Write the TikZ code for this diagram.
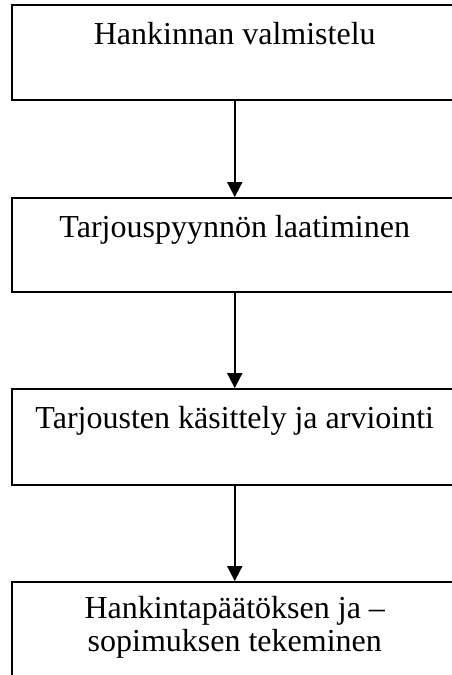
\documentclass[tikz,border=0pt]{standalone}
\usepackage{fontspec}
\setmainfont{Liberation Serif}
\usetikzlibrary{arrows.meta}
\begin{document}
\begin{tikzpicture}[x=1pt,y=-1pt,
  stepbox/.style={draw, line width=1.8pt, minimum width=445pt, inner sep=0pt},
  lbl/.style={font=\fontsize{32}{33}\selectfont, align=center, inner sep=0pt},
  flow/.style={line width=1.8pt, -{Triangle[length=15pt,width=15pt]}}]
  \useasboundingbox (0,0) rectangle (452,675);
  \clip (0,0) rectangle (452,675);
  % process boxes, running off the right edge
  \node[stepbox, minimum height=95pt] (b1) at (234.75,52.5) {};
  \node[stepbox, minimum height=94pt] (b2) at (234.75,245) {};
  \node[stepbox, minimum height=96pt] (b3) at (234.75,437) {};
  \node[stepbox, minimum height=100pt] (b4) at (234.75,632) {};
  % labels
  \node[lbl, anchor=base] (t1) at ([yshift=-40pt]b1.north) {Hankinnan valmistelu};
  \node[lbl, anchor=base] (t2) at ([yshift=-40pt]b2.north) {Tarjouspyynnön laatiminen};
  \node[lbl, anchor=base] (t3) at ([yshift=-40pt]b3.north) {Tarjousten käsittely ja arviointi};
  \node[lbl, anchor=base] (t4) at ([yshift=-70pt]b4.north) {Hankintapäätöksen ja –\\sopimuksen tekeminen};
  % connectors
  \draw[flow] (b1.south) -- (b2.north);
  \draw[flow] (b2.south) -- (b3.north);
  \draw[flow] (b3.south) -- (b4.north);
\end{tikzpicture}
\end{document}
